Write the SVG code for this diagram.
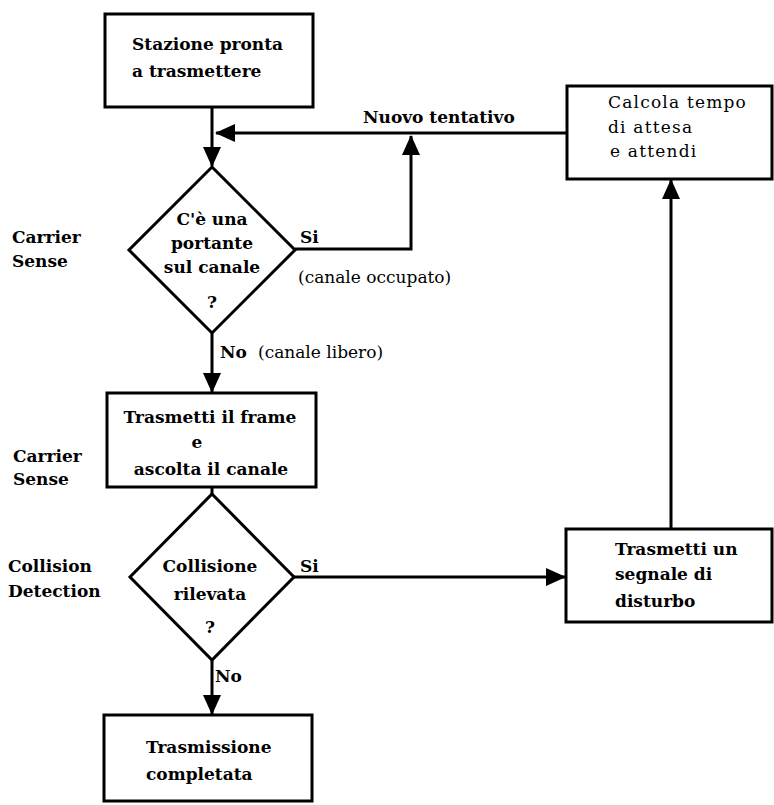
<svg xmlns="http://www.w3.org/2000/svg" width="774" height="805" viewBox="0 0 774 805">
<style>
.box{fill:#fff;stroke:#000;stroke-width:3}
.con{fill:none;stroke:#000;stroke-width:3}
text{font-family:"DejaVu Serif","Liberation Serif",serif;font-size:17px;fill:#000}
.b{font-weight:bold}
.r{font-weight:normal}
.m{text-anchor:middle}
</style>
<defs>
<marker id="ah" viewBox="0 0 20 18" refX="19" refY="9" markerWidth="20" markerHeight="18" markerUnits="userSpaceOnUse" orient="auto">
<path d="M0,0 L20,9 L0,18 z" fill="#000"/>
</marker>
</defs>
<rect width="774" height="805" fill="#fff"/>
<g id="connectors">
<path class="con" d="M212,107 V166" marker-end="url(#ah)"/>
<path class="con" d="M567,133 H216" marker-end="url(#ah)"/>
<path class="con" d="M295,249 H411 V136" marker-end="url(#ah)"/>
<path class="con" d="M212,333 V392" marker-end="url(#ah)"/>
<path class="con" d="M212,487 V494"/>
<path class="con" d="M294,577 H565" marker-end="url(#ah)"/>
<path class="con" d="M212,660 V714" marker-end="url(#ah)"/>
<path class="con" d="M671,529 V180" marker-end="url(#ah)"/>
</g>
<g id="start">
<rect class="box" x="105" y="14" width="208" height="93"/>
<text class="b" x="132" y="50">Stazione pronta</text>
<text class="b" x="132" y="77">a trasmettere</text>
</g>
<g id="wait">
<rect class="box" x="567" y="86" width="205" height="93"/>
<text class="r" x="608" y="108" letter-spacing="1.2">Calcola tempo</text>
<text class="r" x="608" y="133" letter-spacing="1.2">di attesa</text>
<text class="r" x="610" y="157" letter-spacing="1.2">e attendi</text>
</g>
<g id="carrier">
<polygon class="box" points="212,167 295,250 212,333 129,250"/>
<text class="b m" x="212" y="225">C'è una</text>
<text class="b m" x="212" y="249">portante</text>
<text class="b m" x="212" y="273">sul canale</text>
<text class="b m" x="212" y="308">?</text>
</g>
<g id="transmit">
<rect class="box" x="107" y="393" width="209" height="94"/>
<text class="b m" x="210" y="423">Trasmetti il frame</text>
<text class="b m" x="197" y="448">e</text>
<text class="b m" x="211" y="475">ascolta il canale</text>
</g>
<g id="collision">
<polygon class="box" points="212,494 294,577 212,660 130,577"/>
<text class="b m" x="210" y="572">Collisione</text>
<text class="b m" x="210" y="600">rilevata</text>
<text class="b m" x="210" y="633">?</text>
</g>
<g id="jam">
<rect class="box" x="566" y="529" width="206" height="93"/>
<text class="b" x="615" y="555">Trasmetti un</text>
<text class="b" x="615" y="580">segnale di</text>
<text class="b" x="615" y="607">disturbo</text>
</g>
<g id="done">
<rect class="box" x="104" y="715" width="208" height="86"/>
<text class="b" x="146" y="753">Trasmissione</text>
<text class="b" x="146" y="780">completata</text>
</g>
<g id="labels">
<text class="b" x="363" y="123">Nuovo tentativo</text>
<text class="b" x="300" y="243">Si</text>
<text class="r" x="298" y="283">(canale occupato)</text>
<text class="b" x="220" y="358">No</text>
<text class="r" x="258" y="358">(canale libero)</text>
<text class="b" x="300" y="572">Si</text>
<text class="b" x="215" y="682">No</text>
<text class="b" x="12" y="243">Carrier</text>
<text class="b" x="12" y="267">Sense</text>
<text class="b" x="13" y="462">Carrier</text>
<text class="b" x="13" y="485">Sense</text>
<text class="b" x="8" y="572">Collision</text>
<text class="b" x="8" y="597">Detection</text>
</g>
</svg>
